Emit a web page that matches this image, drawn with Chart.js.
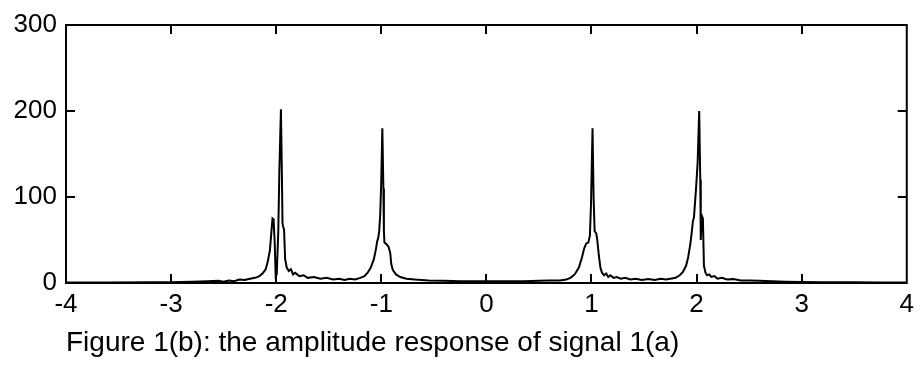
<!doctype html>
<html lang="en">
<head>
<meta charset="utf-8">
<title>Amplitude response</title>
<style>
  body { margin: 0; background: #fff; }
  #wrap { width: 920px; height: 368px; }
</style>
</head>
<body>
<div id="wrap"><canvas id="ampChart" width="920" height="368"></canvas></div>
<script src="https://cdn.jsdelivr.net/npm/chart.js@4.4.1/dist/chart.umd.min.js"></script>
<script>
// frequency axis and amplitude
const freq = [
  -4.00, -3.60, -3.20, -3.00, -2.80, -2.65, -2.55, -2.50, -2.45, -2.40, -2.35, -2.30,
  -2.25, -2.20, -2.16, -2.13, -2.10, -2.08, -2.06, -2.045, -2.035, -2.025, -2.015, -2.005,
  -1.995, -1.98, -1.97, -1.955, -1.945, -1.94, -1.935, -1.925, -1.915, -1.90, -1.88, -1.86,
  -1.84, -1.82, -1.78, -1.74, -1.70, -1.64, -1.58, -1.52, -1.46, -1.40, -1.35, -1.30,
  -1.25, -1.20, -1.16, -1.13, -1.10, -1.07, -1.05, -1.04, -1.03, -1.02, -1.01, -1.00,
  -0.99, -0.98, -0.975, -0.97, -0.95, -0.93, -0.915, -0.905, -0.89, -0.86, -0.82, -0.76,
  -0.68, -0.55, -0.40, -0.25, -0.10, 0.05, 0.20, 0.35, 0.50, 0.60, 0.70, 0.76,
  0.80, 0.84, 0.88, 0.91, 0.93, 0.95, 0.97, 0.985, 0.995, 1.01, 1.02, 1.03,
  1.045, 1.055, 1.07, 1.085, 1.10, 1.12, 1.14, 1.16, 1.18, 1.21, 1.24, 1.28,
  1.32, 1.37, 1.42, 1.48, 1.54, 1.60, 1.66, 1.71, 1.75, 1.80, 1.84, 1.87,
  1.90, 1.92, 1.94, 1.955, 1.965, 1.975, 1.995, 2.01, 2.025, 2.035, 2.04, 2.05,
  2.06, 2.07, 2.085, 2.10, 2.12, 2.14, 2.17, 2.20, 2.24, 2.29, 2.35, 2.42,
  2.50, 2.60, 2.72, 2.85, 3.00, 3.20, 3.50, 3.75, 4.00
];
const amplitude = [
  0.5, 0.6, 0.8, 1.0, 1.5, 2.0, 2.5, 1.5, 3.0, 2.0, 4.0, 3.5,
  5.0, 6.0, 8.0, 11, 16, 25, 38, 60, 75, 74, 50, 8.0,
  10, 60, 130, 202, 120, 70, 66, 62, 28, 18, 14, 16,
  10, 12, 8.0, 9.0, 6.0, 7.0, 5.0, 6.0, 4.0, 5.0, 3.5, 5.0,
  4.0, 6.0, 8.0, 12, 18, 28, 40, 48, 52, 60, 80, 120,
  180, 110, 60, 47, 45, 42, 35, 22, 15, 10, 7.0, 5.0,
  4.0, 3.0, 2.5, 2.0, 2.0, 2.0, 2.0, 2.0, 2.5, 3.0, 3.0, 4.0,
  6.0, 10, 18, 30, 40, 46, 47, 55, 90, 180, 100, 60,
  58, 50, 32, 18, 12, 9.0, 11, 7.0, 9.0, 6.0, 7.0, 5.0,
  6.0, 4.0, 5.0, 3.5, 4.5, 3.5, 5.0, 4.0, 5.0, 6.0, 9.0, 13,
  20, 30, 45, 60, 72, 76, 110, 140, 200, 120, 50, 78,
  75, 20, 12, 9.0, 10, 7.0, 8.0, 5.0, 6.0, 4.0, 4.5, 3.0,
  3.0, 2.5, 2.0, 1.5, 1.2, 1.0, 0.8, 0.6, 0.5
];
const xTicks = [-4, -3, -2, -1, 0, 1, 2, 3, 4];
const yTicks = [0, 100, 200, 300];
const figureCaption = 'Figure 1(b): the amplitude response of signal 1(a)';

const points = freq.map((f, i) => ({ x: f, y: amplitude[i] }));

// draws the box and the inward tick marks, matlab style
const frameTicks = {
  id: 'frameTicks',
  afterDraw(chart) {
    const { ctx, chartArea: a, scales } = chart;
    const len = 9;
    ctx.save();
    ctx.strokeStyle = '#000';
    ctx.lineWidth = 2;
    ctx.strokeRect(a.left, a.top, a.right - a.left, a.bottom - a.top);
    ctx.beginPath();
    for (const v of xTicks.slice(1, -1)) {
      const px = Math.round(scales.x.getPixelForValue(v));
      ctx.moveTo(px, a.bottom); ctx.lineTo(px, a.bottom - len);
      ctx.moveTo(px, a.top); ctx.lineTo(px, a.top + len);
    }
    for (const v of yTicks.slice(1, -1)) {
      const py = Math.round(scales.y.getPixelForValue(v));
      ctx.moveTo(a.left, py); ctx.lineTo(a.left + len, py);
      ctx.moveTo(a.right, py); ctx.lineTo(a.right - len, py);
    }
    ctx.stroke();
    ctx.restore();
  }
};

const ctx = document.getElementById('ampChart').getContext('2d');
new Chart(ctx, {
  type: 'line',
  data: {
    datasets: [{
      data: points,
      borderColor: '#000',
      borderWidth: 2,
      pointRadius: 0,
      tension: 0,
      fill: false
    }]
  },
  options: {
    responsive: false,
    animation: false,
    layout: { padding: { top: 25, right: 12, left: 0, bottom: 0 } },
    plugins: { legend: { display: false }, tooltip: { enabled: false } },
    scales: {
      x: {
        type: 'linear',
        min: -4, max: 4,
        afterBuildTicks: (s) => { s.ticks = xTicks.map(v => ({ value: v })); },
        afterFit: (s) => { s.height = 85; },
        grid: { display: false, drawTicks: false },
        border: { display: false },
        ticks: { color: '#000', padding: 6, maxRotation: 0, font: { family: 'Liberation Sans', size: 26 } },
        title: {
          display: true,
          text: figureCaption,
          align: 'start',
          color: '#000',
          font: { family: 'Liberation Sans', size: 28 },
          padding: { top: 0, bottom: 8 }
        }
      },
      y: {
        min: 0, max: 300,
        afterBuildTicks: (s) => { s.ticks = yTicks.map(v => ({ value: v })); },
        afterFit: (s) => { s.width = 66; },
        grid: { display: false, drawTicks: false },
        border: { display: false },
        ticks: { color: '#000', padding: 9, font: { family: 'Liberation Sans', size: 26 } }
      }
    }
  },
  plugins: [frameTicks]
});
</script>
</body>
</html>
